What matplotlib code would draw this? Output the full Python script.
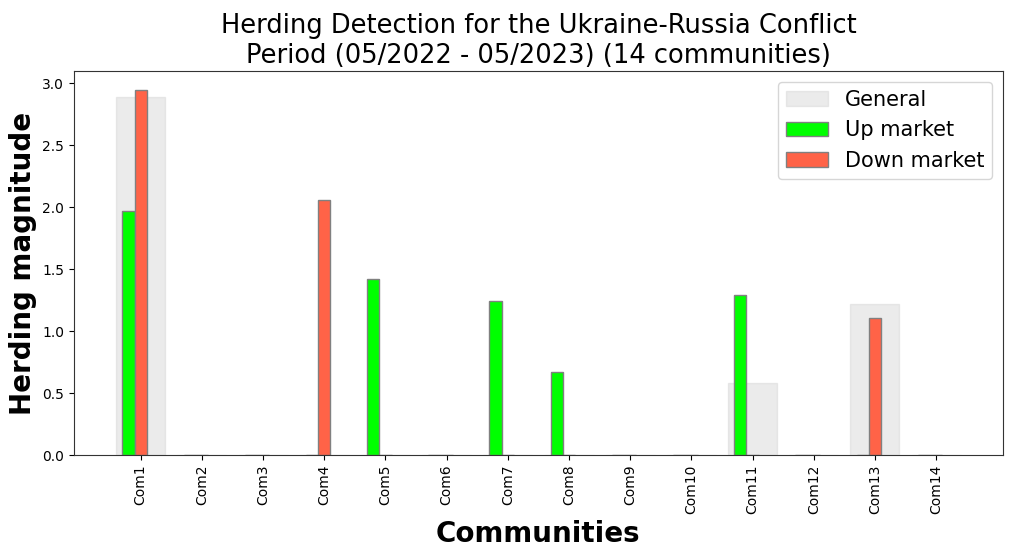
import numpy as np
import matplotlib
matplotlib.use("Agg")
import matplotlib.pyplot as plt

# communities and herding values
communities = ["Com%d" % i for i in range(1, 15)]
general = [2.89, 0, 0, 0, 0, 0, 0, 0, 0, 0, 0.58, 0, 1.22, 0]
up_market = [1.97, 0, 0, 0, 1.42, 0, 1.24, 0.67, 0, 0, 1.29, 0, 0, 0]
down_market = [2.95, 0, 0, 2.06, 0, 0, 0, 0, 0, 0, 0, 0, 1.11, 0]

x = np.arange(len(communities))

fig, ax = plt.subplots(figsize=(10.14, 5.57), dpi=100)

ax.bar(x, general, width=0.8, color="lightgrey", alpha=0.45,
       edgecolor="lightgrey", label="General")
ax.bar(x - 0.2, up_market, width=0.2, color="lime",
       edgecolor="grey", label="Up market")
ax.bar(x, down_market, width=0.2, color="tomato",
       edgecolor="grey", label="Down market")

ax.set_xticks(x)
ax.set_xticklabels(communities, rotation=90)
ax.set_xlabel("Communities", fontsize=20, fontweight="bold")
ax.set_ylabel("Herding magnitude", fontsize=20, fontweight="bold")
ax.set_title("Herding Detection for the Ukraine-Russia Conflict\n"
             "Period (05/2022 - 05/2023) (14 communities)", fontsize=18.5)
ax.legend(loc="upper right", fontsize=15)
for sp in ax.spines.values():
    sp.set_color("#333333")

plt.subplots_adjust(left=0.073, right=0.989, top=0.872, bottom=0.183)
plt.savefig("out.png")
